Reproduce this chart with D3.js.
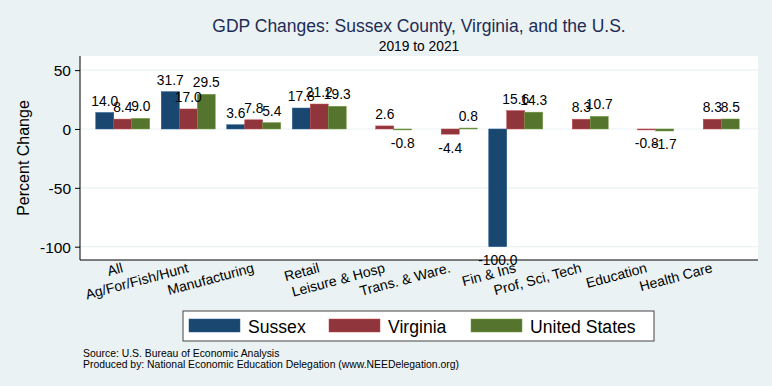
<!DOCTYPE html>
<html>
<head>
<meta charset="utf-8">
<script src="https://cdn.jsdelivr.net/npm/d3@7"></script>
<style>
  body { margin: 0; background: #eaf2f3; }
  text { font-family: "Liberation Sans", Arial, Helvetica, sans-serif; }
</style>
</head>
<body>
<div id="chart"></div>
<script>
// data
var categories = ["All", "Ag/For/Fish/Hunt", "Manufacturing", "Retail", "Leisure & Hosp",
  "Trans. & Ware.", "Fin & Ins", "Prof, Sci, Tech", "Education", "Health Care"];
var seriesNames = ["Sussex", "Virginia", "United States"];
var sussex   = [14.0, 31.7, 3.6, 17.8, null, null, -100.0, null, null, null];
var virginia = [8.4, 17.0, 7.8, 21.2, 2.6, -4.4, 15.6, 8.3, -0.8, 8.3];
var usa      = [9.0, 29.5, 5.4, 19.3, -0.8, 0.8, 14.3, 10.7, -1.7, 8.5];
var yTicks = [50, 0, -50, -100];
var colors = ["#1a476f", "#90353b", "#55752f"];

var W = 772, H = 386;
var plot = {left: 80, right: 758, top: 56, bottom: 260};

var svg = d3.select("#chart").append("svg")
  .attr("width", W).attr("height", H);

svg.append("rect").attr("width", W).attr("height", H).style("fill", "#eaf2f3");
svg.append("rect")
  .attr("x", plot.left).attr("y", plot.top)
  .attr("width", plot.right - plot.left).attr("height", plot.bottom - plot.top)
  .style("fill", "#fff");

// scales
var x0 = d3.scaleBand()
  .domain(categories)
  .range([plot.left, plot.right - 1])
  .paddingInner(0.176)
  .paddingOuter(0.256)
  .align(0.47);

var x1 = d3.scaleBand()
  .domain(seriesNames)
  .range([0, x0.bandwidth()]);

var y = d3.scaleLinear()
  .domain([-111.3, 62])
  .range([plot.bottom, plot.top]);

// grid
svg.selectAll(".grid")
  .data(yTicks)
  .enter().append("line")
  .attr("x1", plot.left).attr("x2", plot.right)
  .attr("y1", function(d) { return y(d); })
  .attr("y2", function(d) { return y(d); })
  .style("stroke", "#eaf2f3").style("stroke-width", 1.2);

// bars
var table = [];
categories.forEach(function(c, i) {
  [sussex, virginia, usa].forEach(function(s, j) {
    if (s[i] !== null) table.push({cat: c, series: seriesNames[j], value: s[i], k: j});
  });
});

svg.selectAll(".bar")
  .data(table)
  .enter().append("rect")
  .attr("class", "bar")
  .attr("x", function(d) { return x0(d.cat) + x1(d.series); })
  .attr("width", x1.bandwidth())
  .attr("y", function(d) { return y(Math.max(0, d.value)); })
  .attr("height", function(d) { return Math.max(0.8, Math.abs(y(d.value) - y(0))); })
  .style("fill", function(d) { return colors[d.k]; })
  .style("stroke", function(d) { return d3.color(colors[d.k]).brighter(0.8); })
  .style("stroke-width", 0.5);

// value labels
svg.selectAll(".val")
  .data(table)
  .enter().append("text")
  .attr("x", function(d) { return x0(d.cat) + x1(d.series) + x1.bandwidth() / 2; })
  .attr("y", function(d) { return d.value >= 0 ? y(d.value) - 7 : y(d.value) + 18.5; })
  .attr("text-anchor", "middle")
  .style("font-size", "13.8px")
  .style("fill", "#000")
  .text(function(d) { return d.value.toFixed(1); });

// y axis
var yAxis = svg.append("g")
  .attr("transform", "translate(" + plot.left + ",0)")
  .call(d3.axisLeft(y).tickValues(yTicks).tickFormat(String).tickSize(5).tickPadding(4));
yAxis.select(".domain").attr("d", "M0," + plot.top + "V" + plot.bottom);
yAxis.selectAll("text").style("font-size", "15.5px").style("fill", "#000")
  .attr("dy", "0.36em")
  .style("font-family", "'Liberation Sans', Arial, Helvetica, sans-serif");
yAxis.selectAll("line, path").style("stroke", "#000");

// x axis line
svg.append("line")
  .attr("x1", plot.left).attr("x2", plot.right)
  .attr("y1", plot.bottom).attr("y2", plot.bottom)
  .style("stroke", "#000");

// x labels (rotated)
svg.selectAll(".xlab")
  .data(categories)
  .enter().append("text")
  .attr("text-anchor", "end")
  .attr("transform", function(d) {
    return "translate(" + (x0(d) + x0.bandwidth() / 2 + 1) + "," + (plot.bottom + 12) + ") rotate(-15)";
  })
  .style("font-size", "14px")
  .text(function(d) { return d; });

// y title
svg.append("text")
  .attr("transform", "translate(29,158) rotate(-90)")
  .attr("text-anchor", "middle")
  .style("font-size", "16px")
  .text("Percent Change");

// titles
var cx = (plot.left + plot.right) / 2;
svg.append("text")
  .attr("x", cx).attr("y", 32)
  .attr("text-anchor", "middle")
  .style("font-size", "17.5px")
  .style("fill", "#1e2c55")
  .text("GDP Changes: Sussex County, Virginia, and the U.S.");
svg.append("text")
  .attr("x", cx).attr("y", 51)
  .attr("text-anchor", "middle")
  .style("font-size", "13.8px")
  .text("2019 to 2021");

// legend
var legend = svg.append("g");
legend.append("rect")
  .attr("x", 183).attr("y", 311)
  .attr("width", 471).attr("height", 30)
  .style("fill", "#fff").style("stroke", "#444").style("stroke-width", 1);
var legX = [189, 329, 471];
seriesNames.forEach(function(s, i) {
  legend.append("rect")
    .attr("x", legX[i]).attr("y", 319)
    .attr("width", 51).attr("height", 13)
    .style("fill", colors[i])
    .style("stroke", d3.color(colors[i]).brighter(0.8)).style("stroke-width", 0.5);
  legend.append("text")
    .attr("x", legX[i] + 59).attr("y", 332.5)
    .style("font-size", "17.6px")
    .text(s);
});

// notes
svg.append("text")
  .attr("x", 83).attr("y", 357)
  .style("font-size", "10.4px")
  .text("Source: U.S. Bureau of Economic Analysis");
svg.append("text")
  .attr("x", 83).attr("y", 367.5)
  .style("font-size", "10.4px")
  .text("Produced by: National Economic Education Delegation (www.NEEDelegation.org)");
</script>
</body>
</html>
